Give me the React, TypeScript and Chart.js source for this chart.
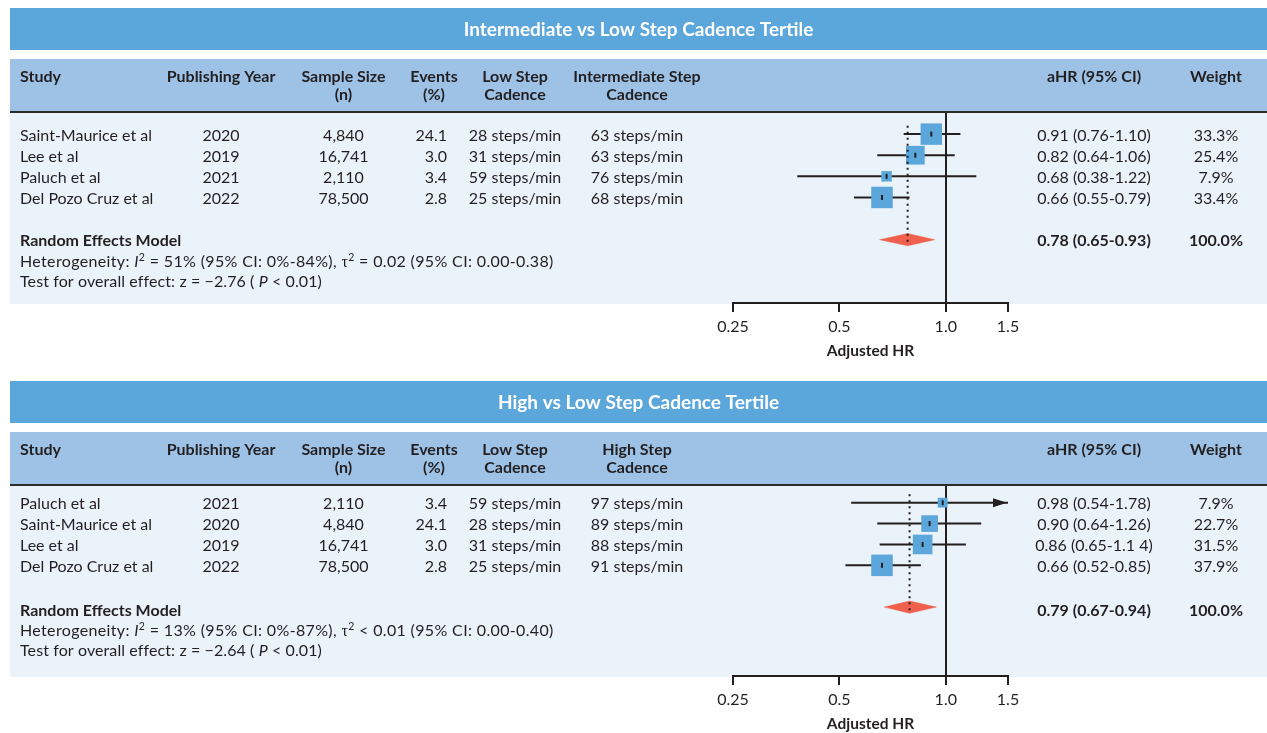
import React, { useEffect, useRef } from "react";
import { Chart, registerables } from "chart.js";

Chart.register(...registerables);

// ---------- shared axis / header data ----------
const xTicks = [0.25, 0.5, 1.0, 1.5];
const xTickLabels = ["0.25", "0.5", "1.0", "1.5"];
const xAxisTitle = "Adjusted HR";
const headerLine1 = ["Study", "Publishing Year", "Sample Size", "Events", "Low Step", "", "aHR (95% CI)", "Weight"];
const headerLine2 = ["", "", "(n)", "(%)", "Cadence", "Cadence", "", ""];
const summaryLabel = "Random Effects Model";
const summaryWeight = "100.0%";

// ---------- panel 1 ----------
const title1 = "Intermediate vs Low Step Cadence Tertile";
const compHeader1 = "Intermediate Step";
const studies1 = ["Saint-Maurice et al", "Lee et al", "Paluch et al", "Del Pozo Cruz et al"];
const years1 = ["2020", "2019", "2021", "2022"];
const sampleSizes1 = ["4,840", "16,741", "2,110", "78,500"];
const events1 = ["24.1", "3.0", "3.4", "2.8"];
const lowCadence1 = ["28 steps/min", "31 steps/min", "59 steps/min", "25 steps/min"];
const compCadence1 = ["63 steps/min", "63 steps/min", "76 steps/min", "68 steps/min"];
const hr1 = [0.91, 0.82, 0.68, 0.66];
const ciLow1 = [0.76, 0.64, 0.38, 0.55];
const ciHigh1 = [1.1, 1.06, 1.22, 0.79];
const ciText1 = ["0.91 (0.76-1.10)", "0.82 (0.64-1.06)", "0.68 (0.38-1.22)", "0.66 (0.55-0.79)"];
const weights1 = [33.3, 25.4, 7.9, 33.4];
const weightText1 = ["33.3%", "25.4%", "7.9%", "33.4%"];
const summary1 = [0.78, 0.65, 0.93];
const summaryText1 = "0.78 (0.65-0.93)";
const i2Text1 = " = 51% (95% CI: 0%-84%), ";
const tauText1 = " = 0.02 (95% CI: 0.00-0.38)";
const zText1 = "Test for overall effect: z = \u22122.76 ( ";
const pText1 = " < 0.01)";

// ---------- panel 2 ----------
const title2 = "High vs Low Step Cadence Tertile";
const compHeader2 = "High Step";
const studies2 = ["Paluch et al", "Saint-Maurice et al", "Lee et al", "Del Pozo Cruz et al"];
const years2 = ["2021", "2020", "2019", "2022"];
const sampleSizes2 = ["2,110", "4,840", "16,741", "78,500"];
const events2 = ["3.4", "24.1", "3.0", "2.8"];
const lowCadence2 = ["59 steps/min", "28 steps/min", "31 steps/min", "25 steps/min"];
const compCadence2 = ["97 steps/min", "89 steps/min", "88 steps/min", "91 steps/min"];
const hr2 = [0.98, 0.9, 0.86, 0.66];
const ciLow2 = [0.54, 0.64, 0.65, 0.52];
const ciHigh2 = [1.78, 1.26, 1.14, 0.85];
const ciText2 = ["0.98 (0.54-1.78)", "0.90 (0.64-1.26)", "0.86 (0.65-1.1 4)", "0.66 (0.52-0.85)"];
const weights2 = [7.9, 22.7, 31.5, 37.9];
const weightText2 = ["7.9%", "22.7%", "31.5%", "37.9%"];
const summary2 = [0.79, 0.67, 0.94];
const summaryText2 = "0.79 (0.67-0.94)";
const i2Text2 = " = 13% (95% CI: 0%-87%), ";
const tauText2 = " < 0.01 (95% CI: 0.00-0.40)";
const zText2 = "Test for overall effect: z = \u22122.64 ( ";
const pText2 = " < 0.01)";

// ---------- styles ----------
const W = 1267;
const PANEL_H = 373;
const FONT = "Lato, 'Open Sans', sans-serif";
const FS = 16;
const TEXT = "#231f20";
const TITLE_BG = "#5ba6da";
const HEADER_BG = "#9dc2e6";
const BODY_BG = "#eaf2fa";
const SQUARE = "#5ba6da";
const DIAMOND = "#f0604d";
const X_MIN = 0.25;
const X_MAX = 1.5;

type PanelData = {
  title: string;
  compHeader: string;
  studies: string[];
  years: string[];
  sizes: string[];
  events: string[];
  low: string[];
  comp: string[];
  hr: number[];
  lo: number[];
  hi: number[];
  ciText: string[];
  weights: number[];
  weightText: string[];
  summary: number[];
  summaryText: string;
  i2: string;
  tau: string;
  z: string;
  p: string;
  yMin: number;
  yMax: number;
  sumOffset: number;
};

const panel1: PanelData = {
  title: title1, compHeader: compHeader1, studies: studies1, years: years1, sizes: sampleSizes1,
  events: events1, low: lowCadence1, comp: compCadence1, hr: hr1, lo: ciLow1, hi: ciHigh1,
  ciText: ciText1, weights: weights1, weightText: weightText1, summary: summary1,
  summaryText: summaryText1, i2: i2Text1, tau: tauText1, z: zText1, p: pText1,
  yMin: -1.0, yMax: 8.0, sumOffset: 6.7,
};
const panel2: PanelData = {
  title: title2, compHeader: compHeader2, studies: studies2, years: years2, sizes: sampleSizes2,
  events: events2, low: lowCadence2, comp: compCadence2, hr: hr2, lo: ciLow2, hi: ciHigh2,
  ciText: ciText2, weights: weights2, weightText: weightText2, summary: summary2,
  summaryText: summaryText2, i2: i2Text2, tau: tauText2, z: zText2, p: pText2,
  yMin: -0.8, yMax: 8.3, sumOffset: 8.5,
};

function setFont(ctx: CanvasRenderingContext2D, size: number, bold = false, italic = false, family = FONT) {
  ctx.font = `${italic ? "italic " : ""}${bold ? "bold " : ""}${size}px ${family}`;
}

function text(ctx: CanvasRenderingContext2D, s: string, x: number, y: number, align: CanvasTextAlign, bold = false, size = FS, color = TEXT) {
  setFont(ctx, size, bold);
  ctx.fillStyle = color;
  ctx.textAlign = align;
  ctx.textBaseline = "alphabetic";
  ctx.fillText(s, x, y);
}

type Seg = { t: string; italic?: boolean; sup?: boolean; family?: string };
function rich(ctx: CanvasRenderingContext2D, x: number, y: number, segs: Seg[], spacing = 0) {
  let cx = x;
  ctx.save();
  ctx.textAlign = "left";
  ctx.textBaseline = "alphabetic";
  ctx.fillStyle = TEXT;
  (ctx as any).letterSpacing = `${spacing}px`;
  for (const s of segs) {
    setFont(ctx, s.sup ? 10.5 : FS, false, !!s.italic, s.family || FONT);
    ctx.fillText(s.t, cx, y + (s.sup ? -6.5 : 0));
    cx += ctx.measureText(s.t).width;
  }
  ctx.restore();
}

// column anchors
const COL_STUDY = 20;
const COL_YEAR = 221;
const COL_N = 343.5;
const COL_EVENTS_HDR = 434;
const COL_EVENTS = 447;
const COL_LOW = 515;
const COL_COMP = 637;
const COL_CI = 1094;
const COL_WEIGHT = 1216;

function makePlugin(p: PanelData) {
  return {
    id: "forestDecor",
    beforeDraw(chart: any) {
      const ctx: CanvasRenderingContext2D = chart.ctx;
      ctx.save();
      ctx.fillStyle = TITLE_BG;
      ctx.fillRect(10, 8, W - 10, 42);
      ctx.fillStyle = HEADER_BG;
      ctx.fillRect(10, 59, W - 10, 52);
      ctx.fillStyle = "#2b2b2b";
      ctx.fillRect(10, 111, W - 10, 2);
      ctx.fillStyle = BODY_BG;
      ctx.fillRect(10, 113, W - 10, chart.chartArea.bottom - 113 + 1);
      ctx.restore();
    },
    beforeDatasetsDraw(chart: any) {
      const ctx: CanvasRenderingContext2D = chart.ctx;
      const xs = chart.scales.x;
      const { top, bottom } = chart.chartArea;
      const px = Math.round(xs.getPixelForValue(1.0));
      ctx.save();
      ctx.strokeStyle = TEXT;
      ctx.lineWidth = 2;
      ctx.beginPath();
      ctx.moveTo(px, top);
      ctx.lineTo(px, bottom);
      ctx.stroke();
      ctx.restore();
    },
    afterDatasetsDraw(chart: any) {
      const ctx: CanvasRenderingContext2D = chart.ctx;
      const xs = chart.scales.x;
      const ys = chart.scales.y;
      ctx.save();
      ctx.fillStyle = TEXT;
      p.hi.forEach((h, i) => {
        if (h > X_MAX) {
          const tip = xs.getPixelForValue(X_MAX) - 1;
          const y = ys.getPixelForValue(i);
          ctx.beginPath();
          ctx.moveTo(tip, y);
          ctx.lineTo(tip - 14, y - 4.5);
          ctx.lineTo(tip - 14, y + 4.5);
          ctx.closePath();
          ctx.fill();
        }
      });
      ctx.restore();
    },
    afterDraw(chart: any) {
      const ctx: CanvasRenderingContext2D = chart.ctx;
      const ys = chart.scales.y;
      const xs = chart.scales.x;
      ctx.save();
      // title
      text(ctx, p.title, (10 + W) / 2, 35.5, "center", true, 19, "#ffffff");
      // header
      const hx = [COL_STUDY, COL_YEAR, COL_N, COL_EVENTS_HDR, COL_LOW, COL_COMP, COL_CI, COL_WEIGHT];
      headerLine1.forEach((h, i) => {
        const label = i === 5 ? p.compHeader : h;
        if (label) text(ctx, label, hx[i], 81.5, i === 0 ? "left" : "center", true);
        if (headerLine2[i]) text(ctx, headerLine2[i], hx[i], 100, "center", true);
      });
      // study rows
      p.studies.forEach((s, i) => {
        const y = ys.getPixelForValue(i) + 6.5;
        text(ctx, s, COL_STUDY, y, "left");
        text(ctx, p.years[i], COL_YEAR, y, "center");
        text(ctx, p.sizes[i], COL_N, y, "center");
        text(ctx, p.events[i], COL_EVENTS, y, "right");
        text(ctx, p.low[i], COL_LOW, y, "center");
        text(ctx, p.comp[i], COL_COMP, y, "center");
        text(ctx, p.ciText[i], COL_CI, y, "center");
        text(ctx, p.weightText[i], COL_WEIGHT, y, "center");
      });
      // summary
      const sy = ys.getPixelForValue(p.studies.length + 1) + p.sumOffset;
      text(ctx, summaryLabel, COL_STUDY, sy, "left", true);
      text(ctx, p.summaryText, COL_CI, sy, "center", true);
      text(ctx, summaryWeight, COL_WEIGHT, sy, "center", true);
      rich(ctx, COL_STUDY, sy + 20.7, [
        { t: "Heterogeneity: " },
        { t: "I", italic: true },
        { t: "2", sup: true },
        { t: p.i2 },
        { t: "\u03c4", family: "'Liberation Serif', serif" },
        { t: "2", sup: true },
        { t: p.tau },
      ], 0.35);
      rich(ctx, COL_STUDY, sy + 40.7, [
        { t: p.z },
        { t: "P", italic: true },
        { t: p.p },
      ], 0.1);
      // axis title
      text(ctx, xAxisTitle, (xs.left + xs.right) / 2, chart.chartArea.bottom + 53, "center", true, 15.5);
      ctx.restore();
    },
  };
}

function buildConfig(p: PanelData): any {
  const n = p.studies.length;
  const sumIdx = n + 1;
  const maxW = Math.max(...p.weights);
  const sideOf = (w: number) => 21.5 * Math.sqrt(w / maxW);
  const ciData: any[] = [];
  p.hr.forEach((_, i) => {
    ciData.push({ x: Math.max(p.lo[i], X_MIN), y: i });
    ciData.push({ x: Math.min(p.hi[i], X_MAX), y: i });
    ciData.push({ x: p.hr[i], y: null });
  });
  const [sHr, sLo, sHi] = p.summary;
  const dh = 0.29;
  return {
    type: "line",
    data: {
      datasets: [
        {
          label: "pooled",
          data: [{ x: sHr, y: -0.4 }, { x: sHr, y: sumIdx + 0.15 }],
          borderColor: TEXT,
          borderWidth: 2,
          borderDash: [2, 4],
          pointRadius: 0,
          order: 0,
        },
        {
          label: "diamond",
          data: [
            { x: sLo, y: sumIdx },
            { x: sHr, y: sumIdx - dh },
            { x: sHi, y: sumIdx },
            { x: sHr, y: sumIdx + dh },
            { x: sLo, y: sumIdx },
          ],
          borderColor: DIAMOND,
          borderWidth: 0.5,
          backgroundColor: DIAMOND,
          fill: "shape",
          pointRadius: 0,
          order: 1,
        },
        {
          label: "marks",
          data: p.hr.map((h, i) => ({ x: h, y: i })),
          showLine: false,
          pointStyle: "line",
          rotation: 90,
          pointRadius: 2.5,
          borderColor: TEXT,
          borderWidth: 2,
          order: 2,
        },
        {
          label: "squares",
          data: p.hr.map((h, i) => ({ x: h, y: i })),
          showLine: false,
          pointStyle: "rect",
          pointRadius: p.weights.map((w) => sideOf(w) * Math.SQRT1_2),
          backgroundColor: SQUARE,
          borderColor: SQUARE,
          borderWidth: 0,
          order: 3,
        },
        {
          label: "ci",
          data: ciData,
          borderColor: TEXT,
          borderWidth: 2,
          pointRadius: 0,
          spanGaps: false,
          order: 4,
        },
      ],
    },
    options: {
      responsive: false,
      animation: false,
      devicePixelRatio: 1,
      layout: { padding: { left: 733, right: W - 1008, top: 113, bottom: 0 } },
      plugins: { legend: { display: false }, tooltip: { enabled: false }, title: { display: false } },
      events: [],
      scales: {
        x: {
          type: "logarithmic",
          min: X_MIN,
          max: X_MAX,
          afterBuildTicks: (s: any) => {
            s.ticks = xTicks.map((v) => ({ value: v }));
          },
          afterFit: (s: any) => {
            s.height = PANEL_H - 303;
          },
          ticks: {
            autoSkip: false,
            maxRotation: 0,
            padding: 5,
            color: TEXT,
            font: { family: FONT, size: 16 },
            callback: (_v: any, i: number) => xTickLabels[i],
          },
          grid: { drawOnChartArea: false, drawTicks: true, tickLength: 9, color: TEXT, lineWidth: 2 },
          border: { display: true, color: TEXT, width: 2 },
        },
        y: { type: "linear", display: false, min: p.yMin, max: p.yMax, reverse: true },
      },
    },
    plugins: [makePlugin(p)],
  };
}

function Panel({ p, top }: { p: PanelData; top: number }) {
  const ref = useRef<HTMLCanvasElement | null>(null);
  useEffect(() => {
    const chart = new Chart(ref.current as HTMLCanvasElement, buildConfig(p));
    return () => chart.destroy();
  }, [p]);
  return (
    <canvas
      ref={ref}
      width={W}
      height={PANEL_H}
      style={{ position: "absolute", left: 0, top, width: W, height: PANEL_H }}
    />
  );
}

export default function App() {
  return (
    <div style={{ position: "fixed", left: 0, top: 0, width: W, height: 733, overflow: "hidden", background: "#ffffff" }}>
      <Panel p={panel1} top={0} />
      <Panel p={panel2} top={373} />
    </div>
  );
}
